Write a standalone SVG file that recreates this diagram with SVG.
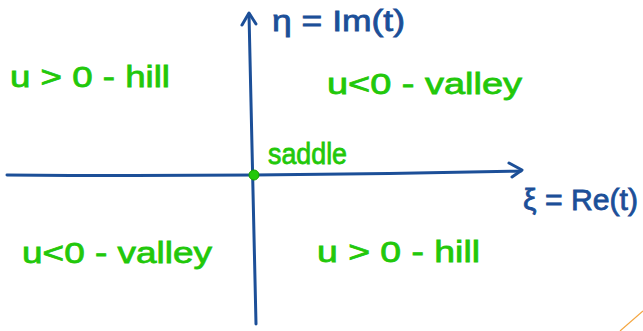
<svg xmlns="http://www.w3.org/2000/svg" width="643" height="331" viewBox="0 0 643 331">
<style>
.ax{fill:none;stroke:#1c4f98;stroke-width:3;stroke-linecap:round;stroke-linejoin:round}
.bl{fill:#1c4f98;stroke:#1c4f98;stroke-width:0.8;font-family:"Liberation Sans",sans-serif;font-size:30px}
.gr{fill:#22c80a;stroke:#22c80a;stroke-width:0.8;font-family:"Liberation Sans",sans-serif;font-size:30px}
</style>
<rect width="643" height="331" fill="#fff"/>
<g id="connectors">
<path class="ax" d="M256 324 Q252 170 249 14"/>
<path class="ax" d="M242 25 L249 13 L256 24"/>
<path class="ax" d="M7 175 Q260 177 521 171"/>
<path class="ax" d="M509 163 L522 170 L512 177"/>
<path d="M620 331 L643 311" stroke="#f4a640" stroke-width="1.2" fill="none"/>
</g>
<g id="saddle">
<circle cx="254" cy="175" r="5" fill="#22c80a" stroke="#1aa000" stroke-width="1"/>
<text class="gr" x="268" y="164" font-size="21" textLength="79" lengthAdjust="spacingAndGlyphs">saddle</text>
</g>
<g id="eta-label"><text class="bl" x="272" y="31" textLength="133" lengthAdjust="spacingAndGlyphs">η = Im(t)</text></g>
<g id="xi-label"><text class="bl" x="523" y="210" textLength="115" lengthAdjust="spacingAndGlyphs">ξ = Re(t)</text></g>
<g id="q2"><text class="gr" x="10" y="87" textLength="160" lengthAdjust="spacingAndGlyphs">u &gt; 0 - hill</text></g>
<g id="q1"><text class="gr" x="327" y="94" textLength="195" lengthAdjust="spacingAndGlyphs">u&lt;0  - valley</text></g>
<g id="q3"><text class="gr" x="22" y="263" textLength="190" lengthAdjust="spacingAndGlyphs">u&lt;0 - valley</text></g>
<g id="q4"><text class="gr" x="317" y="262" textLength="163" lengthAdjust="spacingAndGlyphs">u &gt; 0  - hill</text></g>
</svg>
